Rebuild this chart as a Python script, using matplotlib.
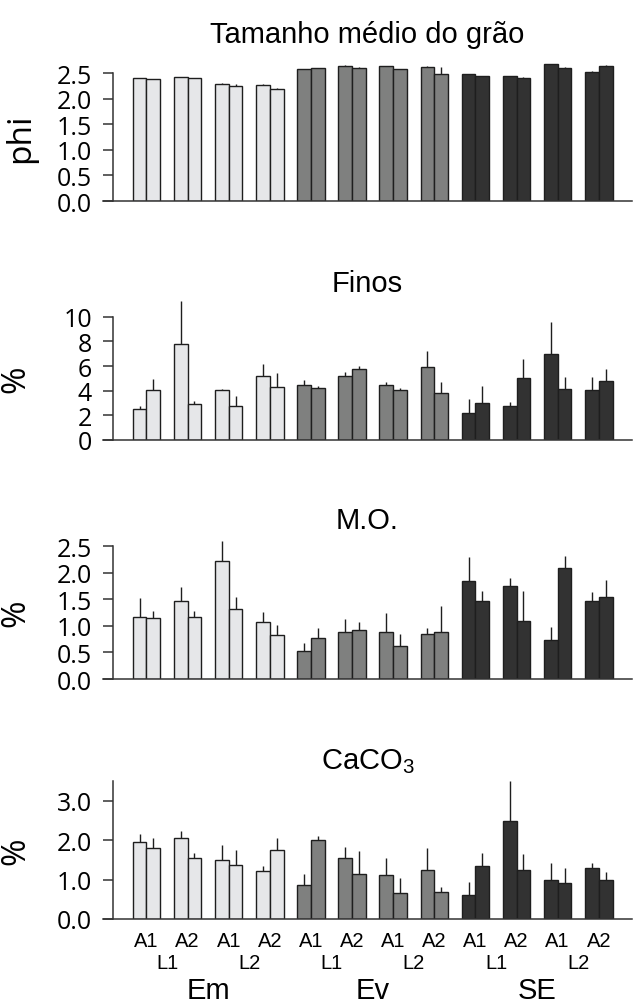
import numpy as np
import matplotlib
matplotlib.use("Agg")
import matplotlib.pyplot as plt
from matplotlib.transforms import blended_transform_factory

# --- Daten (12 Paare: Em L1 A1, Em L1 A2, Em L2 A1, ... SE L2 A2) ---
phi_a = [2.40, 2.42, 2.29, 2.275, 2.58, 2.65, 2.635, 2.62, 2.48, 2.44, 2.67, 2.53]
phi_b = [2.38, 2.40, 2.24, 2.20, 2.60, 2.61, 2.58, 2.48, 2.45, 2.41, 2.61, 2.64]
phi_err_a = [0.01, 0.01, 0.01, 0.02, 0.01, 0.01, 0.01, 0.02, 0.01, 0.01, 0.0, 0.02]
phi_err_b = [0.01, 0.01, 0.04, 0.01, 0.01, 0.02, 0.01, 0.14, 0.0, 0.01, 0.02, 0.02]

finos_a = [2.49, 7.80, 4.09, 5.15, 4.44, 5.20, 4.42, 5.88, 2.17, 2.76, 6.99, 4.04]
finos_b = [4.09, 2.95, 2.76, 4.28, 4.25, 5.75, 4.04, 3.79, 3.00, 5.04, 4.17, 4.77]
finos_err_a = [0.27, 3.45, 0.08, 1.05, 0.41, 0.33, 0.32, 1.30, 1.16, 0.36, 2.60, 1.05]
finos_err_b = [0.84, 0.25, 0.79, 1.14, 0.14, 0.25, 0.21, 0.93, 1.34, 1.49, 0.90, 0.98]

mo_a = [1.16, 1.46, 2.22, 1.08, 0.53, 0.88, 0.88, 0.85, 1.84, 1.75, 0.73, 1.47]
mo_b = [1.145, 1.165, 1.31, 0.82, 0.78, 0.92, 0.63, 0.89, 1.46, 1.09, 2.10, 1.54]
mo_err_a = [0.37, 0.28, 0.38, 0.18, 0.15, 0.25, 0.37, 0.12, 0.46, 0.16, 0.25, 0.16]
mo_err_b = [0.135, 0.125, 0.23, 0.20, 0.19, 0.16, 0.22, 0.48, 0.20, 0.56, 0.21, 0.33]

caco3_a = [1.94, 2.05, 1.49, 1.21, 0.85, 1.54, 1.12, 1.23, 0.62, 2.49, 1.00, 1.30]
caco3_b = [1.81, 1.55, 1.36, 1.75, 2.00, 1.15, 0.66, 0.68, 1.35, 1.23, 0.91, 1.00]
caco3_err_a = [0.21, 0.17, 0.38, 0.13, 0.28, 0.29, 0.43, 0.57, 0.32, 1.02, 0.42, 0.11]
caco3_err_b = [0.24, 0.13, 0.38, 0.30, 0.10, 0.57, 0.37, 0.13, 0.33, 0.41, 0.39, 0.18]

a_labels = ["A1", "A2"] * 6
l_labels = ["L1", "L2"] * 3
site_labels = ["Em", "Ev", "SE"]

panels = [
    ("Tamanho médio do grão", "phi", phi_a, phi_b, phi_err_a, phi_err_b,
     [0.0, 0.5, 1.0, 1.5, 2.0, 2.5], "{:.1f}", 2.7, 2.5, 15, -0.125),
    ("Finos", "%", finos_a, finos_b, finos_err_a, finos_err_b,
     [0, 2, 4, 6, 8, 10], "{:d}", 11.2, 10, 8, -0.133),
    ("M.O.", "%", mo_a, mo_b, mo_err_a, mo_err_b,
     [0.0, 0.5, 1.0, 1.5, 2.0, 2.5], "{:.1f}", 2.6, 2.5, 9, -0.133),
    ("CaCO$_\\mathregular{3}$", "%", caco3_a, caco3_b, caco3_err_a, caco3_err_b,
     [0.0, 1.0, 2.0, 3.0], "{:.1f}", 3.5, 3.5, 9, -0.133),
]

group_colors = ["#e6e7e9", "#7f807f", "#323232"]
edge = "#1e1e1e"
tick_font = "Open Sans"
label_font = "Liberation Sans"

fig = plt.figure(figsize=(6.33, 10.04), dpi=100)
bottoms = [0.7988, 0.5608, 0.3227, 0.0837]
ax_h = 0.1375

n = 12
pos_a = np.arange(n) * 3
pos_b = pos_a + 1
colors = [group_colors[i // 4] for i in range(n)]

for k, (title, ylab, va_, vb_, ea, eb, ticks, fmt, ytop, spine_top, tpad, ylx) in enumerate(panels):
    ax = fig.add_axes([103 / 633, bottoms[k], 529 / 633, ax_h])
    ax.bar(pos_a, va_, width=1, color=colors, edgecolor=edge, linewidth=1.0, zorder=2)
    ax.bar(pos_b, vb_, width=1, color=colors, edgecolor=edge, linewidth=1.0, zorder=2)
    ax.vlines(pos_a, va_, np.array(va_) + np.array(ea), color=edge, linewidth=1.0,
              zorder=3, clip_on=False)
    ax.vlines(pos_b, vb_, np.array(vb_) + np.array(eb), color=edge, linewidth=1.0,
              zorder=3, clip_on=False)

    ax.set_xlim(-2.67, 35.92)
    ax.set_ylim(0, ytop)
    for s in ["top", "right"]:
        ax.spines[s].set_visible(False)
    ax.spines["left"].set_position(("axes", 10 / 529))
    ax.spines["left"].set_bounds(0, spine_top)
    ax.spines["left"].set_linewidth(1.1)
    ax.spines["left"].set_color("#333333")
    ax.spines["bottom"].set_linewidth(1.1)
    ax.spines["bottom"].set_color("#333333")
    ax.set_xticks([])
    ax.set_yticks(ticks)
    ax.set_yticklabels([fmt.format(t) for t in ticks], fontname=tick_font, fontsize=18)
    ax.tick_params(axis="y", direction="out", length=7.2, width=1.1, color="#333333", pad=8)

    ax.set_title(title, fontname=label_font, fontsize=21, pad=tpad)
    ax.set_ylabel(ylab, fontname=tick_font, fontsize=24)
    tr = blended_transform_factory(ax.transAxes, ax.transData)
    ax.yaxis.set_label_coords(ylx, spine_top / 2, transform=tr)

    if k == 3:
        trx = blended_transform_factory(ax.transData, ax.transAxes)
        centers = pos_a + 0.5
        for c, t in zip(centers, a_labels):
            ax.text(c, -0.155, t, transform=trx, ha="center", va="center",
                    fontname=label_font, fontsize=14.5)
        for i, t in enumerate(l_labels):
            c = (centers[2 * i] + centers[2 * i + 1]) / 2
            ax.text(c, -0.315, t, transform=trx, ha="center", va="center",
                    fontname=label_font, fontsize=14.5)
        for i, t in enumerate(site_labels):
            c = (centers[4 * i] + centers[4 * i + 3]) / 2
            ax.text(c, -0.515, t, transform=trx, ha="center", va="center",
                    fontname=label_font, fontsize=21)

fig.savefig("out.png", dpi=100)
